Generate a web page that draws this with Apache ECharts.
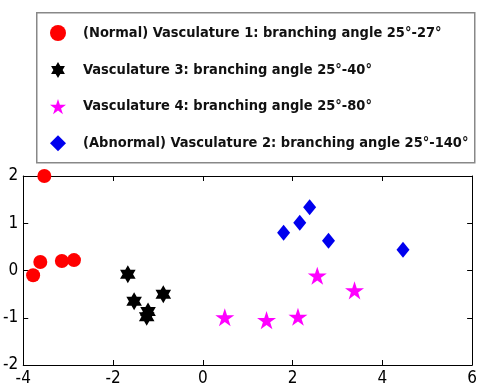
<!DOCTYPE html>
<html><head><meta charset="utf-8">
<script src="https://cdn.jsdelivr.net/npm/echarts@6/dist/echarts.min.js"></script>
<style>html,body{margin:0;padding:0;background:#fff}#c{width:480px;height:389px}</style>
</head><body><div id="c"></div><script>
const seriesNames = [
  '(Normal) Vasculature 1: branching angle 25°-27°',
  'Vasculature 3: branching angle 25°-40°',
  'Vasculature 4: branching angle 25°-80°',
  '(Abnormal) Vasculature 2: branching angle 25°-140°'
];
const vasc1 = [[-3.53, 2.0], [-3.62, 0.18], [-3.78, -0.1], [-3.14, 0.2], [-2.87, 0.22]];
const vasc3 = [[-1.67, -0.08], [-1.53, -0.65], [-1.22, -0.87], [-1.25, -0.98], [-0.88, -0.5]];
const vasc4 = [[0.49, -0.99], [1.42, -1.05], [2.12, -0.98], [2.55, -0.11], [3.38, -0.42]];
const vasc2 = [[1.8, 0.8], [2.16, 1.01], [2.38, 1.34], [2.8, 0.63], [4.46, 0.44]];
const xTicks = [-4, -2, 0, 2, 4, 6];
const yTicks = [-2, -1, 0, 1, 2];

function starPath(n, rOut, rIn) {
  let d = '';
  for (let i = 0; i < 2 * n; i++) {
    const r = i % 2 === 0 ? rOut : rIn;
    const a = -Math.PI / 2 + i * Math.PI / n;
    d += (i === 0 ? 'M' : 'L') + (r * Math.cos(a)).toFixed(3) + ',' + (r * Math.sin(a)).toFixed(3) + ' ';
  }
  return 'path://' + d + 'Z';
}
const hexagram = starPath(6, 10, 10 / Math.sqrt(3));
const pentagram = starPath(5, 10, 3.82);

const font = "'DejaVu Sans Condensed', 'DejaVu Sans', sans-serif";
const chart = echarts.init(document.getElementById('c'));
const axisCommon = {
  type: 'value',
  axisLine: { show: true, onZero: false, lineStyle: { color: '#000', width: 1 } },
  axisTick: { show: true, inside: true, length: 5, lineStyle: { color: '#000' } },
  splitLine: { show: false },
  axisLabel: { color: '#000', fontFamily: font, fontWeight: 'normal condensed', fontSize: 17 }
};
chart.setOption({
  animation: false,
  backgroundColor: '#fff',
  grid: { left: 23, right: 3, top: 176, bottom: 24 },
  graphic: [{
    type: 'rect', left: 36, top: 12,
    shape: { width: 438, height: 150 },
    style: { fill: '#fff', stroke: '#888', lineWidth: 1.5 }, z: -1
  }],
  legend: {
    orient: 'vertical', left: 50, top: 25, padding: 0,
    itemWidth: 16, itemHeight: 16, itemGap: 21,
    textStyle: { fontFamily: font, fontWeight: 'bold condensed', fontSize: 14.5, color: '#111', padding: [0, 0, 0, 12] },
    data: [
      { name: seriesNames[0], icon: 'circle' },
      { name: seriesNames[1], icon: hexagram },
      { name: seriesNames[2], icon: pentagram },
      { name: seriesNames[3], icon: 'diamond' }
    ]
  },
  xAxis: [
    Object.assign({}, axisCommon, { min: xTicks[0], max: xTicks[xTicks.length - 1], interval: 2,
      axisLabel: Object.assign({}, axisCommon.axisLabel, { margin: 5 }) }),
    Object.assign({}, axisCommon, { position: 'top', min: -4, max: 6, interval: 2, axisLabel: { show: false } })
  ],
  yAxis: [
    Object.assign({}, axisCommon, { min: yTicks[0], max: yTicks[yTicks.length - 1], interval: 1,
      axisLabel: Object.assign({}, axisCommon.axisLabel, { margin: 5 }) }),
    Object.assign({}, axisCommon, { position: 'right', min: -2, max: 2, interval: 1, axisLabel: { show: false } })
  ],
  series: [
    { name: seriesNames[0], type: 'scatter', data: vasc1, symbol: 'circle', symbolSize: 14,
      itemStyle: { color: '#ff0000', opacity: 1 }, clip: false },
    { name: seriesNames[1], type: 'scatter', data: vasc3, symbol: hexagram, symbolSize: 18, symbolKeepAspect: true,
      itemStyle: { color: '#000000', opacity: 1 }, clip: false },
    { name: seriesNames[2], type: 'scatter', data: vasc4, symbol: pentagram, symbolSize: 19, symbolKeepAspect: true,
      itemStyle: { color: '#ff00ff', opacity: 1 }, clip: false },
    { name: seriesNames[3], type: 'scatter', data: vasc2, symbol: 'diamond', symbolSize: [13, 16],
      itemStyle: { color: '#0000ee', opacity: 1 }, clip: false }
  ]
});
</script></body></html>
